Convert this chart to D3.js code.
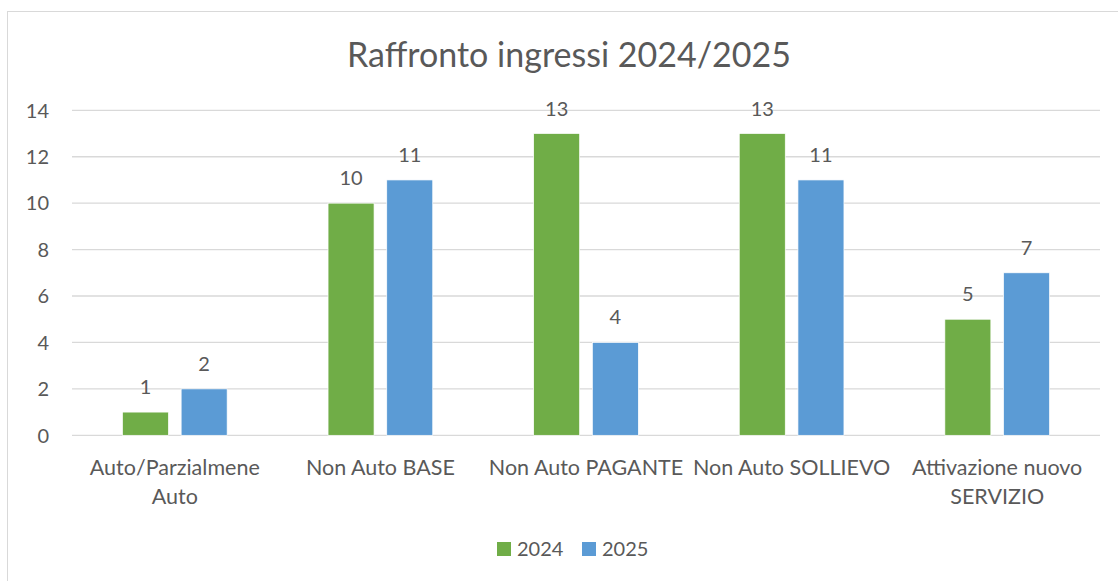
<!DOCTYPE html>
<html>
<head>
<meta charset="utf-8">
<script src="https://cdn.jsdelivr.net/npm/d3@7"></script>
<style>
  html, body { margin: 0; padding: 0; background: #fff; }
  svg { display: block; font-family: Lato, "Open Sans", sans-serif; }
</style>
</head>
<body>
<div id="chart"></div>
<script>
// chart data
const categories = [
  ["Auto/Parzialmene", "Auto"],
  ["Non Auto BASE"],
  ["Non Auto PAGANTE"],
  ["Non Auto SOLLIEVO"],
  ["Attivazione nuovo", "SERVIZIO"]
];
const seriesNames = ["2024", "2025"];
const values2024 = [1, 10, 13, 13, 5];
const values2025 = [2, 11, 4, 11, 7];
const yTicks = [0, 2, 4, 6, 8, 10, 12, 14];

const width = 1118;
const height = 581;
const textColor = "#595959";
const colors = { "2024": "#70ad47", "2025": "#5b9bd5" };

const svg = d3.select("#chart")
  .append("svg")
  .attr("width", width)
  .attr("height", height);

// outer chart border (right and bottom run off the picture)
svg.append("rect")
  .attr("x", 7.5)
  .attr("y", 11.5)
  .attr("width", width + 20)
  .attr("height", height + 20)
  .attr("fill", "#fff")
  .attr("stroke", "#d9d9d9")
  .attr("stroke-width", 1);

svg.append("text")
  .attr("x", 569)
  .attr("y", 67)
  .attr("text-anchor", "middle")
  .attr("fill", textColor)
  .style("font-size", "34px")
  .text("Raffronto ingressi 2024/2025");

const plot = { left: 72, right: 1100, top: 110.3, bottom: 435.3 };

const keys = categories.map(c => c.join(" "));

const x0 = d3.scaleBand()
  .domain(keys)
  .range([plot.left, plot.right])
  .padding(0);

const outer = (x0.bandwidth() - 104.7) / 2;
const x1 = d3.scaleBand()
  .domain(seriesNames)
  .range([outer, x0.bandwidth() - outer])
  .paddingInner(0.216)
  .paddingOuter(0);

const y = d3.scaleLinear()
  .domain([0, 14])
  .range([plot.bottom, plot.top]);

// gridlines
svg.append("g")
  .selectAll("line")
  .data(yTicks)
  .join("line")
  .attr("x1", plot.left)
  .attr("x2", plot.right)
  .attr("y1", d => y(d))
  .attr("y2", d => y(d))
  .attr("stroke", "#d9d9d9")
  .attr("stroke-width", 1.3);

// y axis labels
svg.append("g")
  .selectAll("text")
  .data(yTicks)
  .join("text")
  .attr("x", 49)
  .attr("y", d => y(d))
  .attr("dy", "0.36em")
  .attr("text-anchor", "end")
  .attr("fill", textColor)
  .style("font-size", "20px")
  .text(d => d);

const rows = keys.map((k, i) => ({
  key: k,
  vals: [
    { name: "2024", v: values2024[i] },
    { name: "2025", v: values2025[i] }
  ]
}));

const groups = svg.append("g")
  .selectAll("g")
  .data(rows)
  .join("g")
  .attr("transform", d => `translate(${x0(d.key)},0)`);

groups.selectAll("rect")
  .data(d => d.vals)
  .join("rect")
  .attr("x", d => x1(d.name))
  .attr("y", d => y(d.v))
  .attr("width", x1.bandwidth())
  .attr("height", d => y(0) - y(d.v))
  .attr("fill", d => colors[d.name])
  .attr("stroke", "#fff")
  .attr("stroke-width", 0.7);

groups.selectAll("text")
  .data(d => d.vals)
  .join("text")
  .attr("x", d => x1(d.name) + x1.bandwidth() / 2)
  .attr("y", d => y(d.v) - 18)
  .attr("text-anchor", "middle")
  .attr("fill", textColor)
  .style("font-size", "20px")
  .text(d => d.v);

// category labels
const catLabels = svg.append("g")
  .selectAll("text")
  .data(categories)
  .join("text")
  .attr("x", (d, i) => x0(keys[i]) + x0.bandwidth() / 2)
  .attr("y", 475)
  .attr("text-anchor", "middle")
  .attr("fill", textColor)
  .style("font-size", "21.5px");

catLabels.selectAll("tspan")
  .data(d => d)
  .join("tspan")
  .attr("x", function () { return this.parentNode.getAttribute("x"); })
  .attr("dy", (d, i) => i === 0 ? 0 : 29)
  .text(d => d);

// legend
const legend = svg.append("g")
  .selectAll("g")
  .data(seriesNames)
  .join("g")
  .attr("transform", (d, i) => `translate(${497 + i * 85},542)`);

legend.append("rect")
  .attr("width", 14)
  .attr("height", 14)
  .attr("fill", d => colors[d]);

legend.append("text")
  .attr("x", 20)
  .attr("y", 14)
  .attr("fill", textColor)
  .style("font-size", "20px")
  .text(d => d);
</script>
</body>
</html>
